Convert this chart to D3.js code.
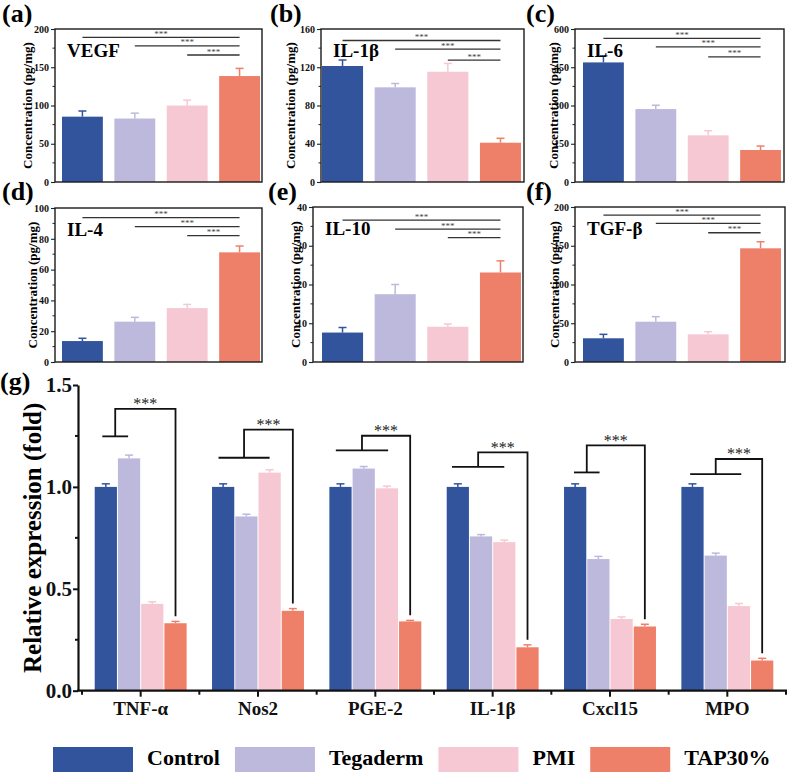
<!DOCTYPE html>
<html>
<head>
<meta charset="utf-8">
<script src="https://cdn.jsdelivr.net/npm/d3@7"></script>
<style>
  body { margin: 0; background: #fff; }
  svg { display: block; }
  text { font-family: "Liberation Serif", "Times New Roman", serif; }
</style>
</head>
<body>
<svg id="fig" width="789" height="774"></svg>
<script>
// groups
const groups = ["Control", "Tegaderm", "PMI", "TAP30%"];
const colors = ["#31549d", "#bdb9dc", "#f6c8d3", "#ee806a"];

// (a)-(f) concentrations, pg/mg
const cytokines = ["VEGF", "IL-1β", "IL-6", "IL-4", "IL-10", "TGF-β"];
const letters = ["(a)", "(b)", "(c)", "(d)", "(e)", "(f)"];
const yMax = [200, 160, 600, 100, 40, 200];
const yStep = [50, 40, 150, 20, 10, 50];
const vegf = [85.4, 83, 100, 138.5],   vegfErr = [7.4, 7, 7, 10];
const il1b = [121.3, 99, 115.3, 41.1], il1bErr = [6.3, 4, 8.7, 4.6];
const il6  = [469, 286, 183, 125.5],   il6Err  = [26, 15, 18, 15.5];
const il4  = [13.6, 26.2, 35, 71.2],   il4Err  = [1.8, 2.8, 2.4, 4.1];
const il10 = [7.6, 17.5, 9.1, 23.1],   il10Err = [1.3, 2.5, 0.7, 3];
const tgfb = [30.6, 52, 35.7, 146.7],  tgfbErr = [5.1, 6.5, 3.4, 8.5];
// height of the three *** lines (group 0,1,2 vs TAP30%)
const sigA = [189, 178, 166];
const sigB = [148, 139, 127.5];
const sigC = [563, 530, 491];
const sigD = [93.7, 87.9, 82];
const sigE = [36.6, 34.3, 32.1];
const sigF = [189.6, 179, 166.8];

// (g) relative expression
const genes = ["TNF-α", "Nos2", "PGE-2", "IL-1β", "Cxcl15", "MPO"];
const ctrlFold = [1, 1, 1, 1, 1, 1],                       ctrlErr = [0.015, 0.015, 0.015, 0.015, 0.015, 0.015];
const tegFold  = [1.14, 0.855, 1.09, 0.757, 0.646, 0.663], tegErr  = [0.016, 0.011, 0.01, 0.009, 0.013, 0.012];
const pmiFold  = [0.426, 1.07, 0.993, 0.729, 0.352, 0.415], pmiErr = [0.01, 0.014, 0.011, 0.01, 0.01, 0.013];
const tapFold  = [0.331, 0.392, 0.34, 0.213, 0.315, 0.148], tapErr = [0.009, 0.011, 0.005, 0.012, 0.011, 0.011];
// brackets
const brLow  = [1.248, 1.143, 1.179, 1.098, 1.071, 1.063];
const brTop  = [1.383, 1.281, 1.251, 1.169, 1.204, 1.137];
const brFrom = [-0.15, -0.2, -0.2, -0.25, -0.05, -0.1];
const brTo   = [0.96, 2, 2.05, 2, 1.05, 2.1];

const FONT = "'Liberation Serif','Times New Roman',serif";
const svg = d3.select("#fig");

// ---------- small panels ----------
const means = [vegf, il1b, il6, il4, il10, tgfb];
const errs = [vegfErr, il1bErr, il6Err, il4Err, il10Err, tgfbErr];
const sigs = [sigA, sigB, sigC, sigD, sigE, sigF];

const frames = [
  {x0: 55,  x1: 262, y0: 29,  y1: 182, b0: 62,  b1: 260, lx: 2,   ly: 22,  tx: 27},
  {x0: 321, x1: 524, y0: 29,  y1: 182, b0: 322, b1: 521, lx: 270, ly: 22,  tx: 290},
  {x0: 575, x1: 784, y0: 29,  y1: 182, b0: 583, b1: 781, lx: 526, ly: 22,  tx: 553},
  {x0: 55,  x1: 262, y0: 208, y1: 362, b0: 62,  b1: 260, lx: 2,   ly: 200, tx: 32},
  {x0: 313, x1: 523, y0: 207, y1: 362, b0: 322, b1: 521, lx: 268, ly: 200, tx: 295},
  {x0: 575, x1: 785, y0: 207, y1: 362, b0: 583, b1: 781, lx: 526, ly: 200, tx: 554}
];

frames.forEach(function(f, p) {
  var g = svg.append("g");
  var x = d3.scaleBand().domain(groups).range([f.b0, f.b1]).paddingInner(0.22);
  var y = d3.scaleLinear().domain([0, yMax[p]]).range([f.y1, f.y0]);

  g.append("text").attr("x", f.lx).attr("y", f.ly)
    .attr("font-size", 26).attr("font-weight", "bold").text(letters[p]);

  // bars
  g.selectAll("rect.bar").data(groups).enter().append("rect")
    .attr("class", "bar")
    .attr("x", d => x(d))
    .attr("y", (d, i) => y(means[p][i]))
    .attr("width", x.bandwidth())
    .attr("height", (d, i) => f.y1 - y(means[p][i]))
    .attr("fill", (d, i) => colors[i]);

  // error bars
  groups.forEach(function(d, i) {
    var cx = x(d) + x.bandwidth() / 2;
    var top = y(means[p][i] + errs[p][i]);
    g.append("line").attr("x1", cx).attr("x2", cx)
      .attr("y1", y(means[p][i])).attr("y2", top)
      .attr("stroke", colors[i]).attr("stroke-width", 1.5);
    g.append("line").attr("x1", cx - 4).attr("x2", cx + 4)
      .attr("y1", top).attr("y2", top)
      .attr("stroke", colors[i]).attr("stroke-width", 1.5);
  });

  // y axis + minor ticks
  var ticks = d3.range(0, yMax[p] + 0.001, yStep[p]);
  var ax = g.append("g").attr("transform", "translate(" + f.x0 + ",0)")
    .call(d3.axisLeft(y).tickValues(ticks).tickSize(4).tickPadding(2).tickSizeOuter(0));
  ax.select(".domain").remove();
  ax.selectAll("line").attr("stroke", "#222").attr("stroke-width", 1.1);
  ax.selectAll("text").attr("font-size", 10).attr("font-weight", "bold")
    .attr("fill", "#111").style("font-family", FONT);
  g.selectAll("line.minor").data(ticks.slice(0, -1).map(v => v + yStep[p] / 2)).enter()
    .append("line").attr("class", "minor")
    .attr("x1", f.x0 - 2.5).attr("x2", f.x0)
    .attr("y1", d => y(d)).attr("y2", d => y(d))
    .attr("stroke", "#222").attr("stroke-width", 1);

  // frame
  g.append("rect").attr("x", f.x0).attr("y", f.y0)
    .attr("width", f.x1 - f.x0).attr("height", f.y1 - f.y0)
    .attr("fill", "none").attr("stroke", "#1a1a1a").attr("stroke-width", 1.4);

  // y title
  g.append("text")
    .attr("transform", "translate(" + f.tx + "," + (f.y0 + f.y1) / 2 + ") rotate(-90)")
    .attr("text-anchor", "middle").attr("dominant-baseline", "central")
    .attr("font-size", 13).attr("font-weight", "bold").text("Concentration (pg/mg)");

  // cytokine name
  g.append("text").attr("x", f.x0 + 12).attr("y", f.y0 + 28)
    .attr("font-size", 19).attr("font-weight", "bold").text(cytokines[p]);

  // significance lines
  var xEnd = x(groups[3]) + x.bandwidth() / 2;
  sigs[p].forEach(function(v, i) {
    var xs = x(groups[i]) + x.bandwidth() / 2;
    g.append("line").attr("x1", xs).attr("x2", xEnd)
      .attr("y1", y(v)).attr("y2", y(v))
      .attr("stroke", "#333").attr("stroke-width", 1.3);
    g.append("text").attr("x", (xs + xEnd) / 2).attr("y", y(v) - 0.5)
      .attr("text-anchor", "middle").attr("font-size", 9).attr("fill", "#444")
      .text("***");
  });
});

// ---------- panel (g) ----------
const folds = [ctrlFold, tegFold, pmiFold, tapFold];
const foldErrs = [ctrlErr, tegErr, pmiErr, tapErr];
const gy0 = 690.7, gy1 = 385, gxL = 78, gxR = 787;

const xg = d3.scaleBand().domain(genes).range([82, 786]).paddingInner(0.208).paddingOuter(0.104);
const xs = d3.scaleBand().domain(groups).range([0, xg.bandwidth()]);
const yg = d3.scaleLinear().domain([0, 1.5]).range([gy0, gy1]);

const pg = svg.append("g");

pg.append("text").attr("x", 0).attr("y", 390)
  .attr("font-size", 26).attr("font-weight", "bold").text("(g)");

genes.forEach(function(gene, k) {
  groups.forEach(function(grp, i) {
    var bx = xg(gene) + xs(grp);
    var v = folds[i][k];
    pg.append("rect").attr("x", bx + 0.5).attr("y", yg(v))
      .attr("width", xs.bandwidth() - 1).attr("height", gy0 - yg(v))
      .attr("fill", colors[i]);
    var cx = bx + xs.bandwidth() / 2;
    var top = yg(v + foldErrs[i][k]);
    pg.append("line").attr("x1", cx).attr("x2", cx).attr("y1", yg(v)).attr("y2", top)
      .attr("stroke", colors[i]).attr("stroke-width", 1.5);
    pg.append("line").attr("x1", cx - 4).attr("x2", cx + 4).attr("y1", top).attr("y2", top)
      .attr("stroke", colors[i]).attr("stroke-width", 1.5);
  });

  // bracket
  var slot = function(s) { return xg(gene) + xs.bandwidth() * (s + 0.5); };
  var a = slot(brFrom[k]), b = slot(brTo[k]), piv = (a + b) / 2;
  var drop = slot(3);
  var dropEnd = yg(tapFold[k] + tapErr[k] + 0.025);
  pg.append("line").attr("x1", a).attr("x2", b).attr("y1", yg(brLow[k])).attr("y2", yg(brLow[k]))
    .attr("stroke", "#111").attr("stroke-width", 1.8);
  pg.append("path")
    .attr("d", "M" + piv + "," + yg(brLow[k]) + "V" + yg(brTop[k]) + "H" + drop + "V" + dropEnd)
    .attr("fill", "none").attr("stroke", "#111").attr("stroke-width", 1.8);
  pg.append("text").attr("x", (piv + drop) / 2).attr("y", yg(brTop[k]) + 0.5)
    .attr("text-anchor", "middle").attr("font-size", 16).attr("fill", "#222").text("***");
});

// y axis
const yTicks = [0, 0.5, 1, 1.5];
const gya = pg.append("g").attr("transform", "translate(" + gxL + ",0)")
  .call(d3.axisLeft(yg).tickValues(yTicks).tickFormat(d3.format(".1f")).tickSize(5).tickPadding(1).tickSizeOuter(0));
gya.select(".domain").attr("stroke", "#111").attr("stroke-width", 2.2);
gya.selectAll(".tick line").attr("stroke", "#111").attr("stroke-width", 2);
gya.selectAll("text").attr("font-size", 21).attr("font-weight", "bold").attr("fill", "#111")
  .style("font-family", FONT);
pg.selectAll("line.gminor").data([0.25, 0.75, 1.25]).enter().append("line")
  .attr("class", "gminor").attr("x1", gxL - 3).attr("x2", gxL)
  .attr("y1", d => yg(d)).attr("y2", d => yg(d))
  .attr("stroke", "#111").attr("stroke-width", 2);

// x axis
const gxa = pg.append("g").attr("transform", "translate(0," + gy0 + ")")
  .call(d3.axisBottom(xg).tickSize(6).tickPadding(5).tickSizeOuter(0));
gxa.select(".domain").remove();
gxa.selectAll(".tick line").attr("stroke", "#111").attr("stroke-width", 2);
gxa.selectAll("text").attr("font-size", 19).attr("font-weight", "bold").attr("fill", "#111")
  .style("font-family", FONT);
pg.append("line").attr("x1", gxL - 1).attr("x2", gxR).attr("y1", gy0).attr("y2", gy0)
  .attr("stroke", "#111").attr("stroke-width", 2.2);
pg.selectAll("line.xminor").data(d3.range(genes.length + 1)).enter().append("line")
  .attr("class", "xminor")
  .attr("x1", d => xg.range()[0] + d * xg.step()).attr("x2", d => xg.range()[0] + d * xg.step())
  .attr("y1", gy0).attr("y2", gy0 + 4)
  .attr("stroke", "#111").attr("stroke-width", 2);

// y title
pg.append("text")
  .attr("transform", "translate(32," + (gy0 + gy1) / 2 + ") rotate(-90)")
  .attr("text-anchor", "middle").attr("dominant-baseline", "central")
  .attr("font-size", 25).attr("font-weight", "bold").text("Relative expression (fold)");

// ---------- legend ----------
const leg = svg.append("g");
let lx = 53;
groups.forEach(function(grp, i) {
  leg.append("rect").attr("x", lx).attr("y", 747).attr("width", 80).attr("height", 25)
    .attr("fill", colors[i]);
  var t = leg.append("text").attr("x", lx + 94).attr("y", 765)
    .attr("font-size", 22).attr("font-weight", "bold").text(grp);
  lx += 94 + t.node().getComputedTextLength() + 15;
});
</script>
</body>
</html>
